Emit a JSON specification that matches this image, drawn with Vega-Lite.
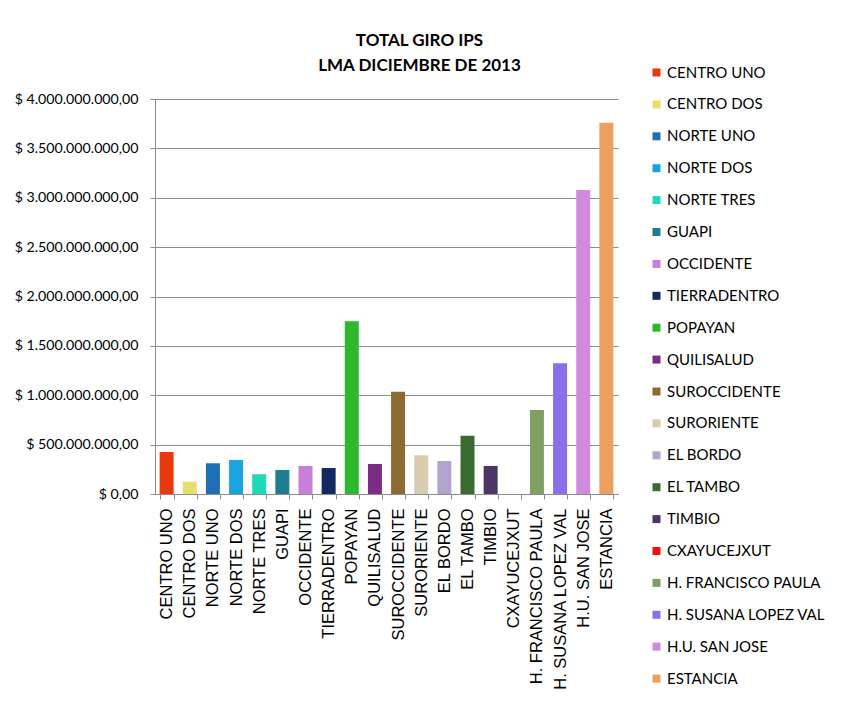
{
  "$schema": "https://vega.github.io/schema/vega-lite/v6.json",
  "autosize": {"type": "none"},
  "width": 463,
  "height": 395,
  "padding": {"left": 155, "top": 99, "right": 245, "bottom": 214},
  "background": "white",
  "title": {
    "text": ["TOTAL GIRO IPS", "LMA DICIEMBRE DE 2013"],
    "font": "Lato",
    "fontSize": 17,
    "fontWeight": "bold",
    "color": "#000000",
    "lineHeight": 25,
    "anchor": "middle",
    "dx": 33,
    "offset": -10
  },
  "data": {
    "values": [
      {"ips": "CENTRO UNO", "total": 425000000},
      {"ips": "CENTRO DOS", "total": 125000000},
      {"ips": "NORTE UNO", "total": 311000000},
      {"ips": "NORTE DOS", "total": 344000000},
      {"ips": "NORTE TRES", "total": 200000000},
      {"ips": "GUAPI", "total": 243000000},
      {"ips": "OCCIDENTE", "total": 284000000},
      {"ips": "TIERRADENTRO", "total": 263000000},
      {"ips": "POPAYAN", "total": 1749000000},
      {"ips": "QUILISALUD", "total": 304000000},
      {"ips": "SUROCCIDENTE", "total": 1036000000},
      {"ips": "SURORIENTE", "total": 392000000},
      {"ips": "EL BORDO", "total": 334000000},
      {"ips": "EL TAMBO", "total": 590000000},
      {"ips": "TIMBIO", "total": 284000000},
      {"ips": "CXAYUCEJXUT", "total": 0},
      {"ips": "H. FRANCISCO PAULA", "total": 851000000},
      {"ips": "H. SUSANA LOPEZ VAL", "total": 1324000000},
      {"ips": "H.U. SAN JOSE", "total": 3078000000},
      {"ips": "ESTANCIA", "total": 3760000000}
    ]
  },
  "mark": {"type": "bar"},
  "encoding": {
    "x": {
      "field": "ips",
      "type": "nominal",
      "sort": null,
      "scale": {"paddingInner": 0.395, "paddingOuter": 0.2},
      "axis": {
        "title": null,
        "labelAngle": -90,
        "labelAlign": "right",
        "labelBaseline": "middle",
        "labelFont": "Liberation Sans",
        "labelFontSize": 16.5,
        "labelColor": "#000000",
        "labelPadding": 9,
        "labelLimit": 300,
        "tickBand": "extent",
        "tickSize": 5,
        "tickColor": "#8c8c8c",
        "domainColor": "#8c8c8c",
        "labelOverlap": false
      }
    },
    "y": {
      "field": "total",
      "type": "quantitative",
      "scale": {"domain": [0, 4000000000], "nice": false},
      "axis": {
        "title": null,
        "values": [0, 500000000, 1000000000, 1500000000, 2000000000, 2500000000, 3000000000, 3500000000, 4000000000],
        "format": "$,.2f",
        "labelFont": "Lato",
        "labelFontSize": 14.2,
        "labelColor": "#000000",
        "labelPadding": 12,
        "tickSize": 5,
        "tickColor": "#8c8c8c",
        "domainColor": "#8c8c8c",
        "grid": true,
        "gridColor": "#8c8c8c",
        "gridWidth": 1
      }
    },
    "color": {
      "field": "ips",
      "type": "nominal",
      "sort": null,
      "scale": {
        "domain": ["CENTRO UNO", "CENTRO DOS", "NORTE UNO", "NORTE DOS", "NORTE TRES", "GUAPI", "OCCIDENTE", "TIERRADENTRO", "POPAYAN", "QUILISALUD", "SUROCCIDENTE", "SURORIENTE", "EL BORDO", "EL TAMBO", "TIMBIO", "CXAYUCEJXUT", "H. FRANCISCO PAULA", "H. SUSANA LOPEZ VAL", "H.U. SAN JOSE", "ESTANCIA"],
        "range": ["#E8380D", "#E6DE6E", "#1F6FB5", "#1BA3E0", "#1ED8B8", "#1E7D90", "#C77FD9", "#13285E", "#2EB82E", "#7B2D85", "#8C6A34", "#D9CBB0", "#B2A3CF", "#3A6B2E", "#4A3566", "#E81010", "#7FA060", "#8A6FE8", "#D08BDD", "#EBA062"]
      },
      "legend": {
        "title": null,
        "orient": "none",
        "legendX": 494,
        "legendY": -34,
        "symbolType": "square",
        "symbolSize": 64,
        "symbolStrokeWidth": 0,
        "labelFont": "Lato",
        "labelFontSize": 15,
        "labelColor": "#000000",
        "labelOffset": 3,
        "rowPadding": 15.9,
        "padding": 0,
        "labelLimit": 300
      }
    }
  },
  "config": {
    "locale": {
      "number": {"decimal": ",", "thousands": ".", "grouping": [3], "currency": ["$ ", ""]}
    },
    "view": {"stroke": null},
    "axis": {"domainWidth": 1}
  }
}
